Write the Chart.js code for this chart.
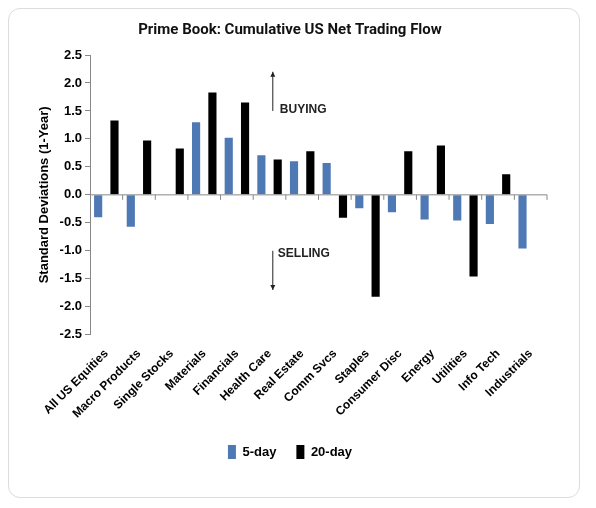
<!DOCTYPE html>
<html>
<head>
<meta charset="utf-8">
<script src="https://cdn.jsdelivr.net/npm/chart.js@4"></script>
<style>
	body { margin: 0; background: #fff; }
	#card { position: absolute; left: 8px; top: 8px; width: 572px; height: 490px; border: 1px solid #dcdcdc; border-radius: 12px; box-sizing: border-box; }
	#Chart_Flow { position: absolute; left: 0; top: 0; }
</style>
</head>
<body>
<div id="card"><canvas id="Chart_Flow" width="570" height="488"></canvas></div>
<script>
const categories = ['All US Equities', 'Macro Products', 'Single Stocks', 'Materials', 'Financials', 'Health Care', 'Real Estate', 'Comm Svcs', 'Staples', 'Consumer Disc', 'Energy', 'Utilities', 'Info Tech', 'Industrials'];
const five_day = [-0.40, -0.57, 0.00, 1.30, 1.02, 0.71, 0.60, 0.57, -0.24, -0.31, -0.44, -0.46, -0.52, -0.96];
const twenty_day = [1.33, 0.97, 0.83, 1.83, 1.65, 0.63, 0.78, -0.41, -1.82, 0.78, 0.88, -1.46, 0.37, 0.01];
const y_ticks = [2.5, 2.0, 1.5, 1.0, 0.5, 0.0, -0.5, -1.0, -1.5, -2.0, -2.5];

// zero line with category separators, plus buying / selling arrows
const annotations = {
	id: 'annotations',
	afterDatasetsDraw(chart) {
		const ctx = chart.ctx;
		const x = chart.scales.x;
		const y = chart.scales.y;
		const y0 = y.getPixelForValue(0);
		ctx.save();
		ctx.strokeStyle = '#888';
		ctx.lineWidth = 1;
		ctx.beginPath();
		ctx.moveTo(x.left, y0);
		ctx.lineTo(x.right, y0);
		const step = (x.right - x.left) / categories.length;
		for(let i = 1; i <= categories.length; i++) {
			ctx.moveTo(x.left + step * i, y0);
			ctx.lineTo(x.left + step * i, y0 + 5);
		}
		ctx.stroke();

		const ax = x.left + step * 5.6;
		ctx.strokeStyle = '#222';
		ctx.fillStyle = '#222';
		ctx.beginPath();
		ctx.moveTo(ax, y.getPixelForValue(1.5));
		ctx.lineTo(ax, y.getPixelForValue(2.2));
		ctx.moveTo(ax, y.getPixelForValue(-1.0));
		ctx.lineTo(ax, y.getPixelForValue(-1.7));
		ctx.stroke();
		ctx.beginPath();
		ctx.moveTo(ax - 2.5, y.getPixelForValue(2.2) + 5);
		ctx.lineTo(ax + 2.5, y.getPixelForValue(2.2) + 5);
		ctx.lineTo(ax, y.getPixelForValue(2.2));
		ctx.fill();
		ctx.beginPath();
		ctx.moveTo(ax - 2.5, y.getPixelForValue(-1.7) - 5);
		ctx.lineTo(ax + 2.5, y.getPixelForValue(-1.7) - 5);
		ctx.lineTo(ax, y.getPixelForValue(-1.7));
		ctx.fill();

		ctx.font = 'bold 12px "Liberation Sans"';
		ctx.textBaseline = 'middle';
		ctx.fillText('BUYING', ax + 7, y.getPixelForValue(1.52));
		ctx.fillText('SELLING', ax + 5, y.getPixelForValue(-1.06));
		ctx.restore();
	}
};

const chart_data = {
	labels: categories,
	datasets: [{
		label: '5-day',
		backgroundColor: '#4f79b4',
		data: five_day
	}, {
		label: '20-day',
		backgroundColor: '#000',
		data: twenty_day
	}]
};

const options = {
	responsive: false,
	animation: false,
	layout: { padding: { left: 24, right: 32, top: 4, bottom: 28 } },
	datasets: { bar: { barPercentage: 0.5, categoryPercentage: 1.0 } },
	scales: {
		x: {
			grid: { display: false },
			border: { display: false },
			ticks: {
				color: '#000',
				font: { family: 'Liberation Sans', weight: 'bold', size: 12 },
				maxRotation: 45, minRotation: 45, autoSkip: false, padding: 4
			}
		},
		y: {
			min: -2.5, max: 2.5,
			afterBuildTicks: function(axis) { axis.ticks = y_ticks.map(v => ({ value: v })); },
			grid: { display: true, drawOnChartArea: false, tickLength: 5, color: '#888' },
			border: { display: true, color: '#888' },
			title: {
				display: true, text: 'Standard Deviations (1-Year)', color: '#000',
				font: { family: 'Liberation Sans', weight: 'bold', size: 13 }
			},
			ticks: {
				color: '#000',
				font: { family: 'Liberation Sans', weight: 'bold', size: 13 },
				callback: v => v.toFixed(1)
			}
		}
	},
	plugins: {
		title: {
			display: true, text: 'Prime Book: Cumulative US Net Trading Flow', color: '#111',
			font: { family: 'Roboto', weight: 'bold', size: 15 }, padding: { top: 8, bottom: 16 }
		},
		legend: {
			position: 'bottom',
			labels: {
				color: '#000', boxWidth: 8, boxHeight: 14, padding: 20,
				font: { family: 'Liberation Sans', weight: 'bold', size: 13 }
			}
		},
		tooltip: { enabled: false }
	}
};

new Chart(document.getElementById('Chart_Flow').getContext('2d'), {
	type: 'bar',
	data: chart_data,
	options: options,
	plugins: [annotations]
});
</script>
</body>
</html>
